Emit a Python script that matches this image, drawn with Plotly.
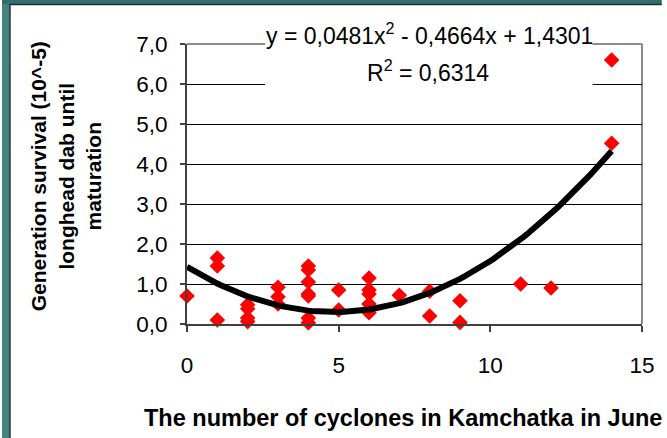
import plotly.graph_objects as go

# ---- data ----
cyclones = [0, 1, 1, 1, 2, 2, 2, 2, 3, 3, 3, 4, 4, 4, 4, 4, 4, 4,
            5, 5, 6, 6, 6, 6, 6, 7, 8, 8, 9, 9, 11, 12, 14, 14]
survival = [0.7, 1.65, 1.45, 0.1, 0.48, 0.38, 0.15, 0.06, 0.92, 0.68, 0.5,
            1.45, 1.35, 1.05, 0.75, 0.7, 0.15, 0.03, 0.85, 0.35,
            1.15, 0.85, 0.75, 0.5, 0.28, 0.72, 0.82, 0.2, 0.58, 0.04,
            1.0, 0.9, 4.52, 6.6]
trend_coef = [0.0481, -0.4664, 1.4301]   # y = a x^2 + b x + c
trend_x = [i / 10 for i in range(0, 141)]
y_tickvals = [0, 1, 2, 3, 4, 5, 6, 7]
y_ticktext = ["0,0", "1,0", "2,0", "3,0", "4,0", "5,0", "6,0", "7,0"]
x_tickvals = [0, 5, 10, 15]
x_ticktext = ["0", "5", "10", "15"]
equation_text = "y = 0,0481x<sup>2</sup> - 0,4664x + 1,4301"
r2_text = "R<sup>2</sup> = 0,6314"
x_title = "The number of cyclones in Kamchatka in June"
y_title = "Generation survival (10^-5)<br>longhead dab until<br>maturation"

trend_y = [trend_coef[0] * x * x + trend_coef[1] * x + trend_coef[2] for x in trend_x]

W, H = 667, 438
L, R, T, B = 187, 20, 44, 114
PW, PH = W - L - R, H - T - B


def px(x):
    return (x - L) / PW


def py(y):
    return (H - B - y) / PH


FONT = "Liberation Sans, Arial, sans-serif"

fig = go.Figure()
fig.add_trace(go.Scatter(
    x=cyclones, y=survival, mode="markers",
    marker=dict(symbol="diamond", color="#ff0000", size=12, line=dict(width=0)),
    cliponaxis=False, showlegend=False))
fig.add_trace(go.Scatter(
    x=trend_x, y=trend_y, mode="lines",
    line=dict(color="black", width=6),
    cliponaxis=False, showlegend=False))

shapes = []
# plot frame: top and right gray
shapes.append(dict(type="line", xref="paper", yref="paper", x0=0, x1=1, y0=1, y1=1,
                   line=dict(color="#8a8a8a", width=2), layer="below"))
shapes.append(dict(type="line", xref="paper", yref="paper", x0=1, x1=1, y0=0, y1=1,
                   line=dict(color="#8a8a8a", width=2), layer="below"))
# white box behind equation
shapes.append(dict(type="rect", xref="paper", yref="paper",
                   x0=px(266), x1=px(597), y0=py(90), y1=py(38),
                   fillcolor="white", line=dict(width=0), layer="above"))
# teal frame
shapes.append(dict(type="rect", xref="paper", yref="paper",
                   x0=px(0), x1=px(7.5), y0=py(H), y1=py(0),
                   fillcolor="#41837f", line=dict(width=0), layer="above"))
shapes.append(dict(type="rect", xref="paper", yref="paper",
                   x0=px(0), x1=px(W), y0=py(4), y1=py(0),
                   fillcolor="#316f6d", line=dict(width=0), layer="above"))
shapes.append(dict(type="line", xref="paper", yref="paper",
                   x0=px(8), x1=px(8), y0=py(H), y1=py(4),
                   line=dict(color="#1e2b2b", width=1.5), layer="above"))
shapes.append(dict(type="line", xref="paper", yref="paper",
                   x0=px(7.5), x1=px(W), y0=py(4.5), y1=py(4.5),
                   line=dict(color="#1e2b2b", width=1.5), layer="above"))

annotations = [
    dict(text=equation_text, xref="paper", yref="paper", x=px(432), y=py(34),
         xanchor="center", yanchor="middle", showarrow=False,
         font=dict(family=FONT, size=23, color="black")),
    dict(text=r2_text, xref="paper", yref="paper", x=px(431), y=py(71),
         xanchor="center", yanchor="middle", showarrow=False,
         font=dict(family=FONT, size=23, color="black")),
    dict(text="<b>" + x_title + "</b>", xref="paper", yref="paper", x=px(405), y=py(418),
         xanchor="center", yanchor="middle", showarrow=False,
         font=dict(family=FONT, size=23.5, color="black")),
    dict(text="<b>" + y_title.replace("<br>", "</b><br><b>") + "</b>",
         xref="paper", yref="paper", x=px(65), y=py(176),
         xanchor="center", yanchor="middle", showarrow=False, textangle=-90,
         font=dict(family=FONT, size=21, color="black")),
]

fig.update_layout(
    width=W, height=H,
    margin=dict(l=L, r=R, t=T, b=B, pad=0),
    paper_bgcolor="white", plot_bgcolor="white",
    font=dict(family=FONT, size=22, color="black"),
    shapes=shapes, annotations=annotations,
    hovermode=False,
    xaxis=dict(range=[0, 15], tickvals=x_tickvals, ticktext=x_ticktext,
               showgrid=False, zeroline=False, showline=True,
               linecolor="#404040", linewidth=2, ticks="outside", ticklen=6,
               tickcolor="#404040", tickwidth=1.5, ticklabelstandoff=14,
               tickfont=dict(family=FONT, size=22.5, color="black")),
    yaxis=dict(range=[0, 7], tickvals=y_tickvals, ticktext=y_ticktext,
               showgrid=True, gridcolor="black", gridwidth=1, zeroline=False,
               showline=True, linecolor="#404040", linewidth=2,
               ticks="outside", ticklen=5, tickcolor="#404040", tickwidth=1.5,
               ticklabelstandoff=8,
               tickfont=dict(family=FONT, size=22.5, color="black")),
)

fig.write_html("out.html", config={"displayModeBar": False},
               post_script="document.body.style.margin='0';document.body.style.padding='0';document.body.style.overflow='hidden';")
